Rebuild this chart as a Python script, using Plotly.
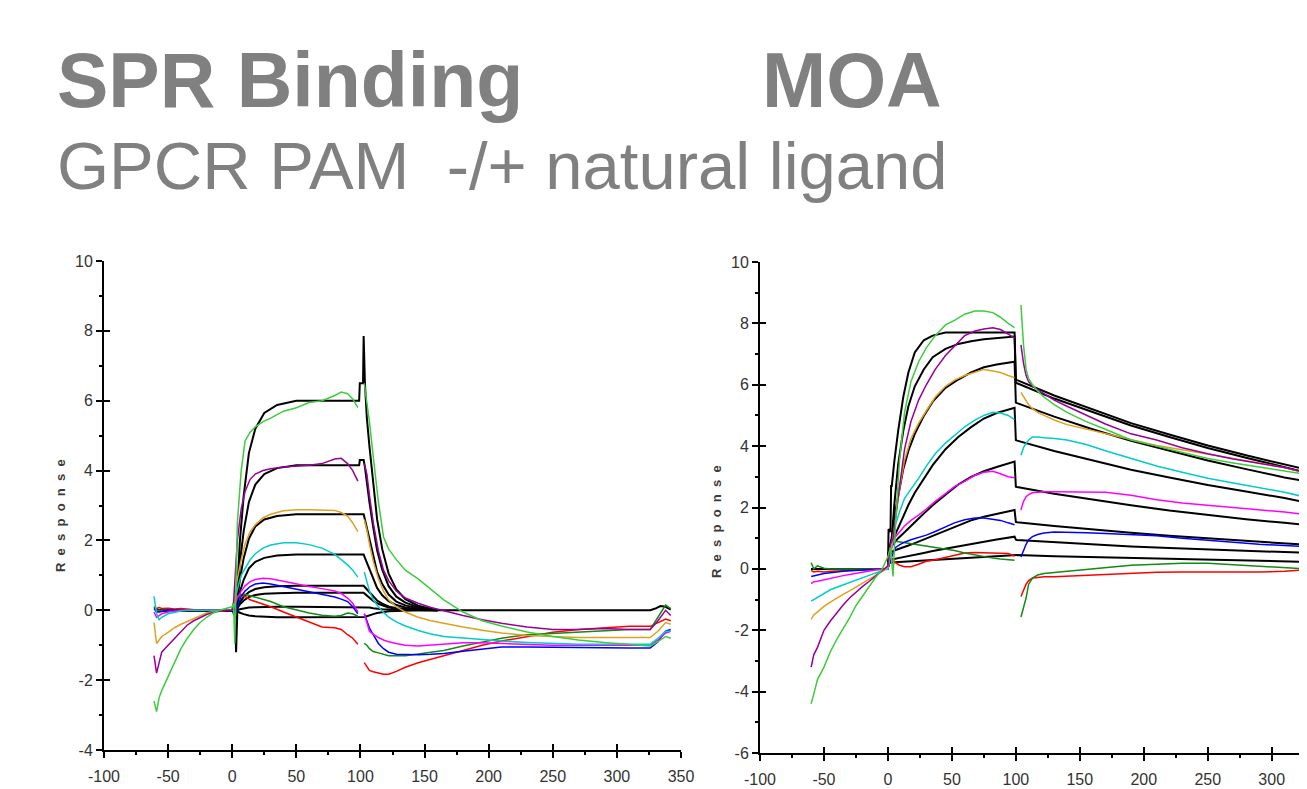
import plotly.graph_objects as go

# ---------------- left panel : SPR binding ----------------
# time grid (s) for the measured curves: baseline, association, gap, dissociation
T_L = [-61, -59, -57, -55, -50, -45, -40, -35, -30, -25, -20, -15, -10, -5, 0,
       1, 2, 4, 7, 10, 14, 18, 24, 30, 40, 50, 60, 70, 80, 85, 90, 94, 98,
       None,
       103, 105, 107, 110, 114, 118, 122, 128, 135, 145, 155, 165, 180, 195, 210,
       230, 250, 270, 290, 310, 326, 332, 338, 342]

L_GREEN = [-2.6, -2.9, -2.5, -2.3, -1.9, -1.5, -1.1, -0.8, -0.55, -0.35, -0.2, -0.08, 0.0, 0.05, 0.1,
           0.2, -0.95, 2.5, 4.0, 4.85, 5.1, 5.25, 5.4, 5.5, 5.7, 5.8, 5.95, 6.0, 6.15, 6.25, 6.2, 6.05, 5.8,
           None,
           6.5, 6.0, 5.4, 4.4, 3.1, 2.1, 1.75, 1.45, 1.15, 0.9, 0.6, 0.3, -0.05, -0.3, -0.45,
           -0.62, -0.75, -0.85, -0.92, -0.97, -1.02, -0.9, -0.75, -0.8]
L_PURPLE = [-1.3, -1.8, -1.5, -1.2, -1.0, -0.8, -0.6, -0.42, -0.3, -0.2, -0.12, -0.06, -0.02, 0.0, 0.0,
            0.2, 0.8, 2.0, 2.9, 3.4, 3.75, 3.9, 4.0, 4.05, 4.1, 4.12, 4.15, 4.2, 4.33, 4.35, 4.2, 4.0, 3.7,
            None,
            4.2, 3.9, 3.3, 2.5, 1.7, 1.15, 0.85, 0.55, 0.35, 0.2, 0.08, -0.02, -0.15, -0.27, -0.37,
            -0.48, -0.55, -0.55, -0.52, -0.55, -0.55, -0.3, 0.0, -0.15]
L_ORANGE = [-0.35, -0.95, -0.85, -0.75, -0.63, -0.5, -0.4, -0.32, -0.22, -0.15, -0.08, -0.04, -0.01, 0.0, 0.0,
            0.1, 0.4, 0.9, 1.45, 1.9, 2.25, 2.45, 2.65, 2.75, 2.85, 2.88, 2.88, 2.88, 2.86, 2.8, 2.7, 2.5, 2.25,
            None,
            2.6, 2.3, 1.9, 1.4, 0.9, 0.55, 0.3, 0.1, -0.05, -0.2, -0.3, -0.38, -0.48, -0.57, -0.65,
            -0.72, -0.76, -0.78, -0.78, -0.78, -0.78, -0.6, -0.35, -0.4]
L_CYAN = [0.4, -0.1, -0.27, -0.2, -0.1, -0.05, -0.02, 0, 0, 0, 0, 0, 0, 0, 0,
          0.1, 0.3, 0.6, 1.0, 1.2, 1.45, 1.62, 1.78, 1.87, 1.93, 1.93, 1.88, 1.78, 1.6, 1.45, 1.3, 1.15, 0.95,
          None,
          1.1, 0.8, 0.55, 0.3, 0.1, -0.06, -0.2, -0.33, -0.45, -0.58, -0.68, -0.75, -0.8, -0.85, -0.88,
          -0.92, -0.95, -0.97, -0.97, -0.97, -0.97, -0.8, -0.6, -0.6]
L_MAGENTA = [-0.05, -0.2, -0.15, -0.1, -0.05, -0.02, 0, 0, 0, 0, 0, 0, 0, 0, 0,
             0.05, 0.15, 0.35, 0.55, 0.7, 0.82, 0.88, 0.92, 0.9, 0.83, 0.75, 0.68, 0.62, 0.55, 0.48, 0.35, 0.2, -0.05,
             None,
             -0.1, -0.35, -0.6, -0.68, -0.78, -0.85, -0.9, -0.95, -1.0, -1.02, -1.0, -0.97, -0.93, -0.93, -0.95,
             -0.97, -1.0, -1.0, -1.0, -1.0, -1.0, -0.85, -0.65, -0.6]
L_BLUE = [0.05, -0.05, -0.05, -0.03, 0, 0, 0, 0, 0, 0, 0, 0, 0, 0, 0,
          -0.1, -0.15, 0.1, 0.4, 0.55, 0.68, 0.75, 0.78, 0.75, 0.68, 0.6, 0.52, 0.45, 0.38, 0.32, 0.25, 0.1, -0.1,
          None,
          -0.1, -0.3, -0.5, -0.7, -0.95, -1.1, -1.2, -1.26, -1.27, -1.27, -1.26, -1.24, -1.17, -1.1, -1.05,
          -1.05, -1.06, -1.08, -1.08, -1.08, -1.08, -0.9, -0.6, -0.55]
L_DKGREEN = [0.1, 0.0, 0.0, 0, 0, 0, 0, 0, 0, 0, 0, 0, 0, 0, 0,
             0.1, 0.3, 0.4, 0.45, 0.46, 0.42, 0.38, 0.3, 0.25, 0.1, 0.0, -0.08, -0.14, -0.17, -0.15, -0.08, -0.1, -0.17,
             None,
             -0.95, -1.0, -1.1, -1.18, -1.22, -1.27, -1.3, -1.3, -1.3, -1.25, -1.2, -1.15, -1.02, -0.9, -0.8,
             -0.7, -0.66, -0.63, -0.58, -0.55, -0.55, -0.2, 0.15, 0.05]
L_RED = [0.1, 0.05, 0.08, 0.05, 0.06, 0.04, 0.05, 0.03, 0.02, 0, 0, 0, 0, 0, 0,
         0.2, 0.35, 0.4, 0.42, 0.4, 0.3, 0.25, 0.18, 0.1, -0.05, -0.2, -0.35, -0.48, -0.5, -0.55, -0.7, -0.8, -0.97,
         None,
         -1.5, -1.62, -1.72, -1.76, -1.8, -1.83, -1.83, -1.75, -1.63, -1.5, -1.4, -1.3, -1.15, -1.0, -0.88,
         -0.75, -0.63, -0.55, -0.5, -0.46, -0.46, -0.35, -0.25, -0.3]

# fitted (black) curves, left panel
T_FIT_L = [-60, 0, 2, 3, 4, 6, 9, 13, 18, 25, 35, 50, 99,
           99.5, 102, 102.5, 103.5, 105, 107, 110, 113, 117, 122, 128, 135, 145, 160]
FIT_L1 = [0, 0, 0, 0, 0.6, 2.0, 3.3, 4.5, 5.2, 5.65, 5.88, 6.0, 6.0,
          6.5, 6.5, 7.85, 6.5, 5.5, 4.7, 3.55, 2.6, 1.75, 1.05, 0.6, 0.32, 0.13, 0.0]
FIT_L2 = [0, 0, 0, 0, 0.42, 1.37, 2.28, 3.1, 3.6, 3.9, 4.07, 4.15, 4.15,
          4.3, 4.3, 4.3, 4.1, 3.65, 3.1, 2.37, 1.72, 1.16, 0.69, 0.39, 0.22, 0.09, 0.0]
FIT_L3 = [0, 0, 0, 0, 0.28, 0.9, 1.5, 2.05, 2.4, 2.6, 2.7, 2.75, 2.75,
          2.75, 2.75, 2.75, 2.6, 2.35, 2.0, 1.5, 1.1, 0.75, 0.45, 0.25, 0.14, 0.06, 0.0]
FIT_L4 = [0, 0, 0, 0, 0.16, 0.53, 0.88, 1.2, 1.39, 1.5, 1.57, 1.6, 1.6,
          1.6, 1.6, 1.6, 1.5, 1.36, 1.15, 0.88, 0.64, 0.43, 0.26, 0.15, 0.08, 0.03, 0.0]
FIT_L5 = [0, 0, 0, 0, 0.07, 0.23, 0.39, 0.52, 0.61, 0.66, 0.69, 0.7, 0.7,
          0.7, 0.7, 0.7, 0.66, 0.6, 0.5, 0.38, 0.28, 0.19, 0.11, 0.06, 0.04, 0.01, 0.0]
FIT_L6 = [0, 0, 0, 0, 0.05, 0.17, 0.28, 0.38, 0.44, 0.47, 0.49, 0.5, 0.5,
          0.5, 0.5, 0.5, 0.47, 0.43, 0.36, 0.27, 0.2, 0.14, 0.08, 0.05, 0.03, 0.01, 0.0]
FIT_L7 = [0, 0, 0, 0, 0.01, 0.03, 0.06, 0.08, 0.09, 0.1, 0.1, 0.1, 0.1,
          0.1, 0.1, 0.1, 0.1, 0.09, 0.08, 0.06, 0.04, 0.03, 0.02, 0.01, 0.0, 0.0, 0.0]
FIT_L8 = [0, 0, 0.3, -1.2, -0.02, -0.07, -0.11, -0.15, -0.17, -0.19, -0.2, -0.2, -0.2,
          -0.2, -0.2, -0.2, -0.19, -0.17, -0.14, -0.11, -0.08, -0.05, -0.03, -0.02, -0.01, 0.0, 0.0]
T_ZERO_L = [160, 326, 330, 334, 338, 342]
ZERO_L = [0, 0, 0.05, 0.12, 0.1, 0.02]

# ---------------- right panel : MOA ----------------
T_R = [-60, -58, -55, -50, -45, -40, -35, -30, -25, -20, -15, -10, -5, 0,
       2, 4, 6, 9, 13, 18, 24, 30, 37, 45, 52, 60, 68, 75, 82, 88, 94, 99,
       None,
       104, 105, 106, 108, 110, 113, 117, 122, 130, 140, 155, 170, 190, 210, 230, 250, 270, 290, 310, 328]

R_GREEN = [-4.4, -4.1, -3.6, -3.2, -2.7, -2.3, -1.95, -1.6, -1.2, -0.9, -0.58, -0.3, -0.05, 0.4,
           0.7, -0.25, 1.5, 3.5, 5.1, 6.1, 6.75, 7.2, 7.6, 7.95, 8.1, 8.3, 8.4, 8.4, 8.35, 8.2, 8.0, 7.86,
           None,
           8.6, 8.0, 7.3, 6.5, 6.2, 6.0, 5.8, 5.6, 5.35, 5.1, 4.8, 4.55, 4.2, 4.0, 3.8, 3.6, 3.45, 3.32, 3.2, 3.07]
R_PURPLE = [-3.2, -2.8, -2.55, -2.0, -1.7, -1.42, -1.18, -0.95, -0.75, -0.58, -0.42, -0.25, -0.1, 0.1,
            0.8, 1.0, 1.7, 2.7, 3.9, 4.8, 5.5, 6.0, 6.5, 6.95, 7.25, 7.6, 7.75, 7.82, 7.86, 7.8, 7.65, 7.53,
            None,
            7.3, 7.0, 6.7, 6.3, 6.1, 5.95, 5.85, 5.72, 5.5, 5.3, 5.0, 4.72, 4.4, 4.2, 3.95, 3.75, 3.58, 3.45, 3.3, 3.13]
R_ORANGE = [-1.65, -1.5, -1.4, -1.22, -1.08, -0.95, -0.83, -0.72, -0.6, -0.48, -0.35, -0.22, -0.1, 0.05,
            0.6, 1.0, 1.6, 2.6, 3.55, 4.25, 4.75, 5.15, 5.6, 5.95, 6.15, 6.3, 6.42, 6.5, 6.45, 6.4, 6.3, 6.23,
            None,
            5.75, 5.68, 5.6, 5.45, 5.35, 5.22, 5.1, 5.0, 4.85, 4.7, 4.55, 4.4, 4.2, 4.02, 3.88, 3.75, 3.6, 3.45, 3.3, 3.1]
R_CYAN = [-1.05, -1.0, -0.92, -0.8, -0.68, -0.6, -0.52, -0.45, -0.38, -0.3, -0.22, -0.14, -0.07, 0.0,
          0.5, 1.0, 1.45, 1.85, 2.3, 2.6, 2.95, 3.35, 3.75, 4.1, 4.35, 4.63, 4.85, 5.0, 5.1, 5.08, 5.0, 4.86,
          None,
          3.7, 3.85, 3.95, 4.1, 4.2, 4.3, 4.3, 4.27, 4.25, 4.2, 4.05, 3.85, 3.6, 3.35, 3.15, 2.95, 2.8, 2.65, 2.5, 2.32]
R_MAGENTA = [-0.48, -0.42, -0.4, -0.35, -0.3, -0.26, -0.22, -0.18, -0.14, -0.1, -0.07, -0.04, -0.02, 0.0,
             0.5, 0.85, 1.05, 1.2, 1.4, 1.58, 1.75, 1.95, 2.2, 2.45, 2.68, 2.85, 3.05, 3.15, 3.18, 3.1, 3.0, 2.97,
             None,
             1.92, 2.05, 2.2, 2.35, 2.42, 2.48, 2.5, 2.51, 2.51, 2.51, 2.51, 2.5, 2.4, 2.25, 2.15, 2.08, 2.0, 1.92, 1.85, 1.76]
R_BLUE = [-0.25, -0.22, -0.2, -0.15, -0.12, -0.1, -0.08, -0.06, -0.05, -0.04, -0.03, -0.02, -0.01, 0.0,
          0.3, 0.5, 0.7, 0.78, 0.87, 0.95, 1.02, 1.1, 1.22, 1.38, 1.5, 1.6, 1.66, 1.66, 1.62, 1.58, 1.5, 1.44,
          None,
          0.39, 0.5, 0.6, 0.8, 0.95, 1.05, 1.12, 1.17, 1.2, 1.2, 1.18, 1.15, 1.12, 1.08, 1.0, 0.93, 0.87, 0.8, 0.76, 0.72]
R_DKGREEN = [0.2, 0.0, 0.1, 0.02, 0, 0, 0, 0, 0, 0, 0, 0, 0, 0,
             0.7, 0.95, 0.9, 0.88, 0.85, 0.82, 0.78, 0.75, 0.7, 0.65, 0.6, 0.52, 0.45, 0.4, 0.35, 0.32, 0.3, 0.28,
             None,
             -1.57, -1.4, -1.25, -0.95, -0.5, -0.3, -0.2, -0.15, -0.12, -0.08, -0.03, 0.03, 0.12, 0.15, 0.18, 0.18, 0.13, 0.08, 0.05, 0.0]
R_RED = [-0.05, -0.1, -0.08, -0.1, -0.08, -0.08, -0.06, -0.05, -0.04, -0.03, -0.02, -0.01, 0, 0,
         0.3, 0.3, 0.2, 0.12, 0.07, 0.07, 0.15, 0.25, 0.3, 0.38, 0.45, 0.52, 0.53, 0.52, 0.52, 0.52, 0.5, 0.42,
         None,
         -0.9, -0.8, -0.7, -0.5, -0.38, -0.3, -0.28, -0.26, -0.26, -0.24, -0.22, -0.2, -0.15, -0.11, -0.1, -0.1, -0.12, -0.1, -0.08, -0.03]

# fitted (black) curves, right panel
T_FIT_R = [-60, 0, 0.5, 2, 2.5, 3, 5, 8, 12, 16, 21, 28, 35, 45, 55, 65, 75, 85, 99,
           100, 101, 130, 160, 190, 220, 250, 280, 310, 328]
FIT_R1 = [0, 0, 1.3, 1.2, 2.7, 2.7, 3.5, 4.5, 5.6, 6.4, 7.05, 7.45, 7.6, 7.7, 7.7, 7.7, 7.7, 7.7, 7.7,
          6.17, 6.15, 5.65, 5.2, 4.75, 4.38, 4.02, 3.7, 3.4, 3.23]
FIT_R2 = [0, 0, 0.5, 0.8, 0.9, 1.0, 2.1, 3.4, 4.5, 5.3, 5.95, 6.5, 6.9, 7.17, 7.33, 7.42, 7.48, 7.52, 7.57,
          6.07, 6.05, 5.55, 5.1, 4.67, 4.3, 3.94, 3.62, 3.32, 3.13]
FIT_R3 = [0, 0, 0.5, 0.8, 0.9, 1.0, 1.7, 2.4, 3.25, 3.85, 4.4, 4.98, 5.45, 5.9, 6.17, 6.4, 6.57, 6.66, 6.75,
          5.42, 5.4, 4.96, 4.55, 4.17, 3.85, 3.53, 3.25, 2.98, 2.85]
FIT_R4 = [0, 0, 0.5, 0.7, 0.8, 0.85, 1.05, 1.33, 1.7, 2.08, 2.48, 2.95, 3.38, 3.9, 4.3, 4.62, 4.9, 5.08, 5.25,
          4.2, 4.18, 3.84, 3.53, 3.23, 2.98, 2.73, 2.52, 2.31, 2.15]
FIT_R5 = [0, 0, 0.5, 0.65, 0.7, 0.75, 0.85, 1.0, 1.15, 1.3, 1.52, 1.8, 2.07, 2.42, 2.75, 3.0, 3.18, 3.32, 3.5,
          2.68, 2.67, 2.45, 2.25, 2.07, 1.9, 1.75, 1.62, 1.5, 1.43]
FIT_R6 = [0, 0, 0.4, 0.5, 0.52, 0.55, 0.6, 0.64, 0.7, 0.76, 0.84, 0.96, 1.08, 1.26, 1.43, 1.58, 1.7, 1.8, 1.92,
          1.53, 1.52, 1.4, 1.28, 1.18, 1.08, 0.99, 0.91, 0.83, 0.78]
FIT_R7 = [0, 0, 0.3, 0.3, 0.3, 0.3, 0.32, 0.35, 0.38, 0.42, 0.46, 0.52, 0.58, 0.66, 0.74, 0.82, 0.89, 0.96, 1.05,
          0.95, 0.94, 0.87, 0.8, 0.73, 0.68, 0.63, 0.58, 0.54, 0.52]
FIT_R8 = [0, 0, 0.2, 0.2, 0.2, 0.2, 0.21, 0.22, 0.23, 0.24, 0.25, 0.27, 0.29, 0.31, 0.33, 0.36, 0.39, 0.42, 0.46,
          0.45, 0.45, 0.41, 0.38, 0.35, 0.32, 0.29, 0.27, 0.25, 0.23]

# axis tick labels (plain hyphen minus, as in the original)
X_TICKS = [-100, -50, 0, 50, 100, 150, 200, 250, 300, 350]
X_TEXT = ["-100", "-50", "0", "50", "100", "150", "200", "250", "300", "350"]
YL_TICKS = [-4, -2, 0, 2, 4, 6, 8, 10]
YL_TEXT = ["-4", "-2", "0", "2", "4", "6", "8", "10"]
YR_TICKS = [-6, -4, -2, 0, 2, 4, 6, 8, 10]
YR_TEXT = ["-6", "-4", "-2", "0", "2", "4", "6", "8", "10"]

GREEN, PURPLE, ORANGE, CYAN = "#3dcc3d", "#990099", "#e0a020", "#00cccc"
MAGENTA, BLUE, DKGREEN, RED = "#ff00ff", "#0000ff", "#138a13", "#ff0000"

# the page body keeps its default 8px margin, so the figure is drawn 8px in
OFF = 8
W, H = 1307 - OFF, 789 - OFF
def fx(p):  # page pixel -> paper (x)
    return (p - OFF) / W
def fy(p):  # page pixel -> paper (y)
    return 1 - (p - OFF) / H

fig = go.Figure()

def line(x, y, color, width, xa, ya):
    fig.add_trace(go.Scatter(x=x, y=y, mode="lines", xaxis=xa, yaxis=ya,
                             line=dict(color=color, width=width),
                             hoverinfo="skip", showlegend=False))

# left panel
for f in [FIT_L1, FIT_L2, FIT_L3, FIT_L4, FIT_L5, FIT_L6, FIT_L7, FIT_L8]:
    line(T_FIT_L, f, "black", 2, "x", "y")
line(T_ZERO_L, ZERO_L, "black", 2, "x", "y")
for ys, c in [(L_RED, RED), (L_DKGREEN, DKGREEN), (L_BLUE, BLUE), (L_MAGENTA, MAGENTA),
              (L_CYAN, CYAN), (L_ORANGE, ORANGE), (L_PURPLE, PURPLE), (L_GREEN, GREEN)]:
    line(T_L, ys, c, 1.5, "x", "y")

# right panel
for f in [FIT_R1, FIT_R2, FIT_R3, FIT_R4, FIT_R5, FIT_R6, FIT_R7, FIT_R8]:
    line(T_FIT_R, f, "black", 2, "x2", "y2")
for ys, c in [(R_RED, RED), (R_DKGREEN, DKGREEN), (R_BLUE, BLUE), (R_MAGENTA, MAGENTA),
              (R_CYAN, CYAN), (R_ORANGE, ORANGE), (R_PURPLE, PURPLE), (R_GREEN, GREEN)]:
    line(T_R, ys, c, 1.5, "x2", "y2")

# dummy traces so the "inside tick" overlay axes get drawn
line([], [], "black", 1, "x3", "y3")
line([], [], "black", 1, "x4", "y4")

tickfont = dict(family="Arial, Liberation Sans, sans-serif", size=16, color="#333333")
ax = dict(showline=True, linecolor="black", linewidth=2, showgrid=False, zeroline=False,
          automargin=False, ticks="outside", ticklen=6, tickwidth=2, tickcolor="black",
          tickfont=tickfont, tickmode="array",
          minor=dict(ticks="outside", ticklen=3, tickwidth=2, tickcolor="black"))
inner = dict(showline=False, showgrid=False, zeroline=False, showticklabels=False,
             automargin=False, ticks="inside", ticklen=6, tickwidth=2, tickcolor="black",
             tickmode="array")

fig.update_layout(
    width=W, height=H, margin=dict(l=0, r=0, t=0, b=0, autoexpand=False),
    paper_bgcolor="white", plot_bgcolor="white", showlegend=False,
    xaxis=dict(ax, domain=[fx(104), fx(681)], range=[-100, 350], tickvals=X_TICKS,
               ticktext=X_TEXT, minor_dtick=25, minor_tick0=-100, anchor="y", ticklabelstandoff=5),
    yaxis=dict(ax, domain=[fy(750), fy(261)], range=[-4, 10], tickvals=YL_TICKS,
               ticktext=YL_TEXT, minor_dtick=1, minor_tick0=-4, anchor="x"),
    xaxis2=dict(ax, domain=[fx(760), 1.0], range=[-100, 327.6], tickvals=X_TICKS,
                ticktext=X_TEXT, minor_dtick=25, minor_tick0=-100, anchor="y2", ticklabelstandoff=5),
    yaxis2=dict(ax, domain=[fy(753), fy(262)], range=[-6, 10], tickvals=YR_TICKS,
                ticktext=YR_TEXT, minor_dtick=1, minor_tick0=-6, anchor="x2"),
    xaxis3=dict(inner, overlaying="x", anchor="y", range=[-100, 350], tickvals=X_TICKS),
    yaxis3=dict(inner, overlaying="y", anchor="x", range=[-4, 10], tickvals=YL_TICKS),
    xaxis4=dict(inner, overlaying="x2", anchor="y2", range=[-100, 327.6], tickvals=X_TICKS),
    yaxis4=dict(inner, overlaying="y2", anchor="x2", range=[-6, 10], tickvals=YR_TICKS),
)

title_font = "Arial, Liberation Sans, sans-serif"
grey = "#808080"
fig.add_annotation(text="<b>SPR Binding</b>", x=fx(55), y=fy(80), xref="paper", yref="paper",
                   xanchor="left", yanchor="middle", showarrow=False,
                   font=dict(family=title_font, size=77, color=grey))
fig.add_annotation(text="<b>MOA</b>", x=fx(760), y=fy(80), xref="paper", yref="paper",
                   xanchor="left", yanchor="middle", showarrow=False,
                   font=dict(family=title_font, size=77, color=grey))
fig.add_annotation(text="GPCR PAM\u00a0 -/+ natural ligand", x=fx(55), y=fy(166),
                   xref="paper", yref="paper", xanchor="left", yanchor="middle", showarrow=False,
                   font=dict(family=title_font, size=67, color=grey))
label = "\u00a0\u00a0".join("Response")
for xp, yp in [(60, 516), (716, 522)]:
    fig.add_annotation(text="<b>" + label + "</b>", x=fx(xp), y=fy(yp), xref="paper", yref="paper",
                       xanchor="center", yanchor="middle", textangle=-90, showarrow=False,
                       font=dict(family=title_font, size=13, color="#3a3a3a"))

fig.write_html("out.html")
